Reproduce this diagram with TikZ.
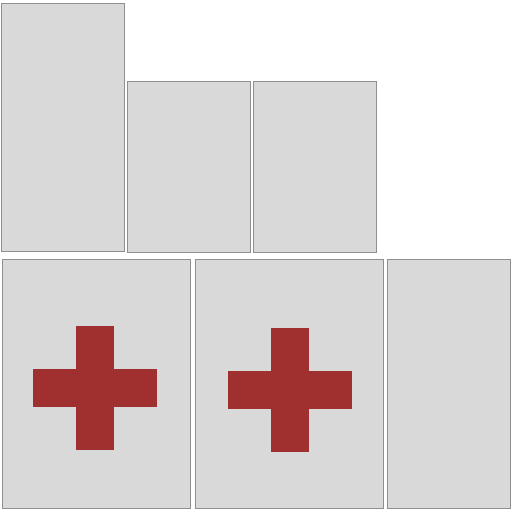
\documentclass[tikz,border=0pt]{standalone}
\definecolor{boxfill}{HTML}{D9D9D9}
\definecolor{boxline}{HTML}{8F8F8F}
\definecolor{crossred}{HTML}{A03030}
\begin{document}
\begin{tikzpicture}[x=1pt,y=-1pt,
  box/.style={draw=boxline,fill=boxfill,line width=1pt},
  crossbar/.style={fill=crossred,draw=none}]
\useasboundingbox (0,0) rectangle (512,512);
\draw[box] (1.8,3.5) rectangle (124.2,251.8) coordinate (r1);
\draw[box] (127.8,81.8) rectangle (250.2,252.6) coordinate (r2);
\draw[box] (253.8,81.8) rectangle (376.2,252.6) coordinate (r3);
\draw[box] (2.8,259.8) rectangle (190.2,508.2) coordinate (r4);
\draw[box] (195.8,259.8) rectangle (383.2,508.2) coordinate (r5);
\draw[box] (387.8,259.8) rectangle (510.2,508.2) coordinate (r6);
% cross 1
\fill[crossred] (76,326) rectangle (114,450);
\fill[crossred] (33,369) rectangle (157,407);
% cross 2
\fill[crossred] (271,328) rectangle (309,452);
\fill[crossred] (228,371) rectangle (352,409);
\end{tikzpicture}
\end{document}
